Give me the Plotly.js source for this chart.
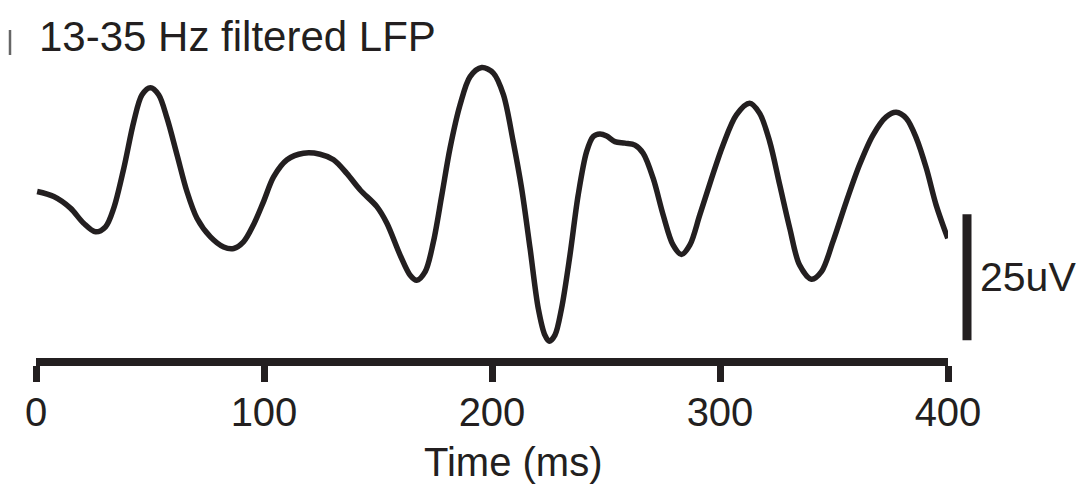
<!DOCTYPE html>
<html>
<head>
<meta charset="utf-8">
<script src="https://cdn.plot.ly/plotly-3.0.1.min.js"></script>
<style>
  html, body { margin: 0; padding: 0; background: #ffffff; }
  #chart { width: 1082px; height: 489px; }
</style>
</head>
<body>
<div id="chart"></div>
<script>
// Beta-band (13-35 Hz) filtered LFP trace, time in ms and amplitude in uV
const timeMs = [
  0.5, 7.8, 15.1, 20.9, 26.1, 30.5, 34.1, 38.5, 42.9, 46.5,
  50.2, 53.8, 57.5, 61.9, 66.2, 70.6, 76.5, 82.3, 86.7, 91.0,
  95.4, 99.8, 104.2, 110.1, 117.3, 124.6, 130.5, 136.3, 142.2, 149.5,
  153.9, 159.7, 164.1, 167.0, 170.7, 174.3, 178.0, 181.6, 186.0, 190.4,
  195.5, 200.6, 205.0, 209.3, 213.0, 216.7, 220.3, 223.2, 225.1, 227.6,
  230.5, 234.2, 237.8, 241.5, 244.4, 247.3, 250.3, 253.9, 258.3, 262.7,
  266.3, 270.7, 275.1, 279.4, 283.1, 286.8, 291.1, 296.3, 301.3, 307.2,
  313.0, 317.4, 321.8, 326.2, 330.6, 334.9, 340.1, 344.5, 349.5, 355.4,
  361.2, 367.1, 372.9, 377.3, 381.7, 386.1, 390.5, 394.8, 399.9
];
const lfpUv = [
  -0.3, -1.3, -3.6, -6.6, -8.3, -7.3, -3.6, 4.3, 13.6, 18.9,
  20.3, 18.9, 14.2, 6.9, -0.3, -5.6, -9.3, -11.3, -11.6, -10.3,
  -6.9, -2.3, 2.6, 6.0, 7.3, 7.1, 6.0, 3.3, 0.0, -3.3,
  -6.6, -12.9, -16.9, -17.9, -16.2, -10.3, -1.0, 8.3, 16.9, 22.5,
  24.3, 23.2, 18.9, 9.6, 0.3, -11.6, -23.5, -28.8, -30.0, -28.8,
  -23.5, -12.9, -1.0, 7.6, 10.6, 11.1, 10.7, 9.6, 9.3, 8.9,
  7.3, 2.3, -5.0, -10.9, -12.8, -10.9, -5.0, 2.3, 8.9, 14.9,
  17.2, 15.2, 9.6, 1.0, -7.6, -14.9, -17.7, -16.2, -10.3, -2.3,
  5.0, 10.9, 14.5, 15.4, 14.2, 10.3, 4.3, -3.0, -9.6
];

// Time axis ticks
const tickTimes = [0, 100, 200, 300, 400];
const tickText = ['0', '100', '200', '300', '400'];
const timeAxisTitle = 'Time (ms)';

// Vertical calibration bar (uV)
const scaleBarUv = 25;
const scaleBarBottomUv = -29.8;
const scaleBarLabel = '25uV';

const ink = '#231f20';
const font = 'Liberation Sans, Arial, Helvetica, sans-serif';

// plot area geometry (px)
const plotLeft = 36, plotWidth = 912, plotBottom = 358, plotHeight = 298;
const px2paperX = px => (px - plotLeft) / plotWidth;
const px2paperY = py => (plotBottom - py) / plotHeight;

const trace = {
  x: timeMs,
  y: lfpUv,
  type: 'scatter',
  mode: 'lines',
  line: { color: ink, width: 5.5, shape: 'spline', smoothing: 0.9 },
  hoverinfo: 'skip'
};

const layout = {
  width: 1082,
  height: 489,
  margin: { l: plotLeft, r: 1082 - plotLeft - plotWidth, t: plotBottom - plotHeight, b: 489 - plotBottom, pad: 0 },
  paper_bgcolor: '#ffffff',
  plot_bgcolor: '#ffffff',
  showlegend: false,
  font: { family: font, color: ink },
  title: {
    text: '13-35 Hz filtered LFP',
    font: { family: font, size: 42, color: ink },
    xref: 'container', yref: 'container',
    x: 39 / 1082, xanchor: 'left',
    y: 1 - 36 / 489, yanchor: 'middle',
    pad: { t: 0, b: 0, l: 0, r: 0 }
  },
  xaxis: {
    range: [0, 400],
    showgrid: false,
    zeroline: false,
    showline: true,
    linecolor: ink,
    linewidth: 8,
    ticks: 'outside',
    ticklen: 16,
    tickwidth: 7,
    tickcolor: ink,
    tickmode: 'array',
    tickvals: tickTimes,
    ticktext: tickText,
    tickfont: { family: font, size: 40, color: ink },
    ticklabelstandoff: -4,
    fixedrange: true
  },
  yaxis: {
    range: [-33.33, 25.79],
    visible: false,
    showgrid: false,
    zeroline: false,
    fixedrange: true
  },
  shapes: [
    {
      type: 'line',
      xref: 'paper', yref: 'y',
      x0: px2paperX(967), x1: px2paperX(967),
      y0: scaleBarBottomUv, y1: scaleBarBottomUv + scaleBarUv,
      line: { color: ink, width: 9 }
    },
    {
      type: 'line',
      xref: 'paper', yref: 'paper',
      x0: px2paperX(10), x1: px2paperX(10),
      y0: px2paperY(30), y1: px2paperY(55),
      line: { color: '#666666', width: 2.5 }
    }
  ],
  annotations: [
    {
      text: scaleBarLabel,
      xref: 'paper', yref: 'y',
      x: px2paperX(978), xanchor: 'left',
      y: scaleBarBottomUv + scaleBarUv / 2, yanchor: 'middle',
      showarrow: false,
      font: { family: font, size: 41, color: ink }
    },
    {
      text: timeAxisTitle,
      xref: 'paper', yref: 'paper',
      x: px2paperX(513), xanchor: 'center',
      y: px2paperY(462), yanchor: 'middle',
      showarrow: false,
      font: { family: font, size: 40, color: ink }
    }
  ]
};

Plotly.newPlot('chart', [trace], layout, { displayModeBar: false, staticPlot: true });
</script>
</body>
</html>
